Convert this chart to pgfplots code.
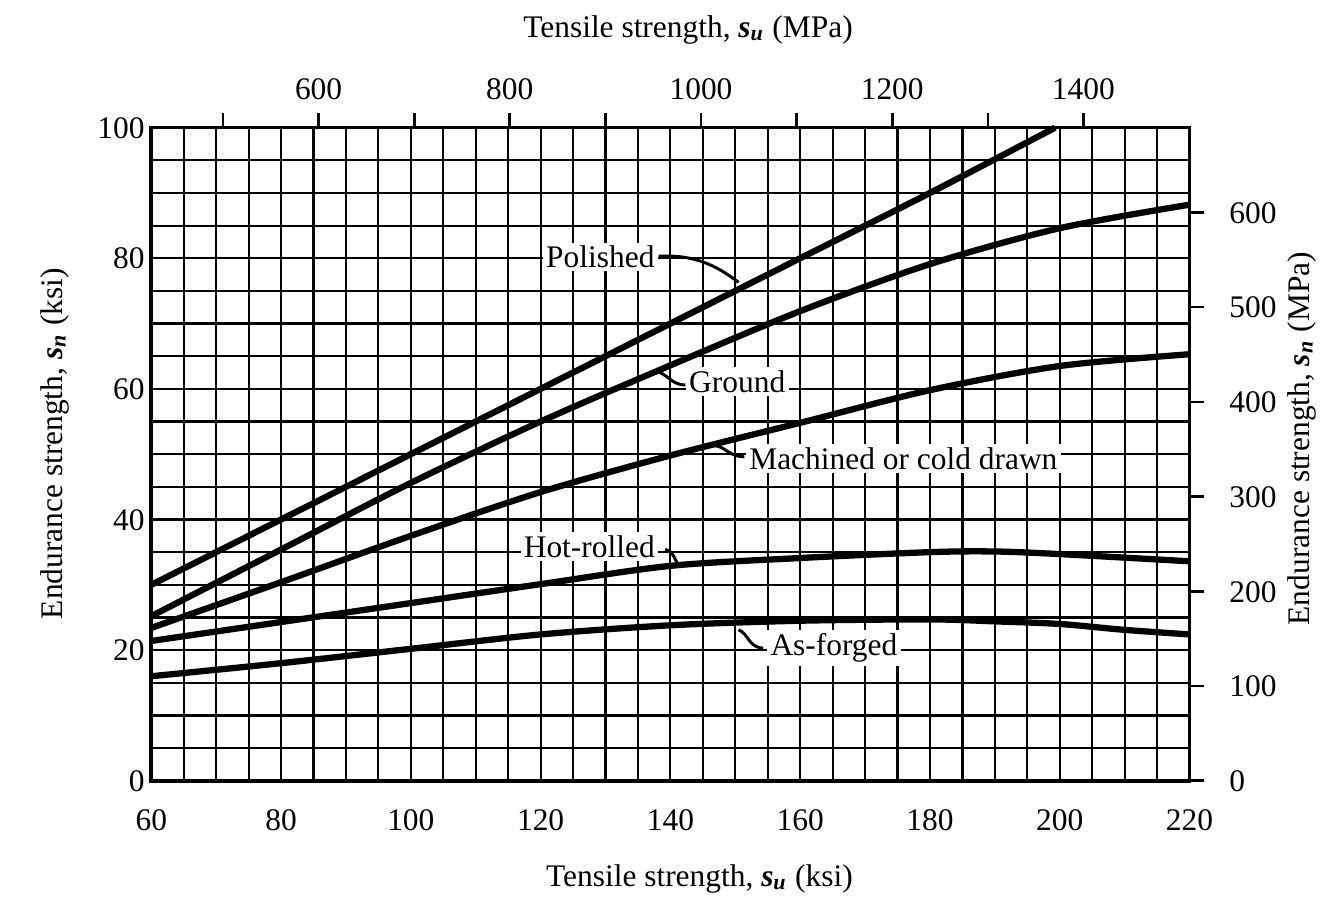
\documentclass[border=0pt]{standalone}
\usepackage{fontspec}
\setmainfont{Liberation Serif}
\usepackage{pgfplots}
\usepackage{pgfplotstable}
\pgfplotsset{compat=1.18}

% endurance strength (ksi) against tensile strength (ksi)
\pgfplotstableread{
x y
60 30
80 40
100 50
120 60
140 70
160 80
180 90
199.3 100
}\polished
\pgfplotstableread{
x y
60 25.2
80 35.4
100 45.6
120 55.0
140 63.6
160 71.9
180 79.1
200 84.6
220 88.2
}\ground
\pgfplotstableread{
x y
60 23.4
80 30.4
100 37.5
120 44.2
140 49.8
160 54.8
180 59.8
200 63.5
220 65.3
}\machined
\pgfplotstableread{
x y
60 21.4
80 24.3
100 27.2
120 30.1
140 32.9
160 34.1
180 35.0
190 35.1
200 34.7
220 33.6
}\hotrolled
\pgfplotstableread{
x y
60 16.0
80 18.0
100 20.2
120 22.4
140 23.8
160 24.5
180 24.7
190 24.4
200 24.0
210 23.1
220 22.4
}\asforged

\newcommand{\lbl}{\fontsize{9.5}{11}\selectfont}

\begin{document}
\begin{tikzpicture}[font=\lbl]
\pgfplotsset{
  common/.style={
    scale only axis, width=313.8pt, height=197.4pt,
    axis line style={line width=1.1pt},
    /pgf/number format/assume math mode=true,
    /pgf/number format/1000 sep={},
    tick label style={font=\lbl, text height=6.5pt, text depth=0pt},
  },
}
\begin{axis}[
  common,
  xmin=60, xmax=220, ymin=0, ymax=100,
  xtick={60,80,...,220}, ytick={0,20,...,100},
  minor tick num=3,
  grid=both,
  major grid style={black, line width=0.65pt},
  minor grid style={black, line width=0.65pt},
  major tick length=0pt, minor tick length=0pt,
  xtick pos=left, ytick pos=left,
  xticklabel style={yshift=-5pt},
  yticklabel style={xshift=1.5pt},
  clip=false,
]
\path (rel axis cs:-0.1457,-0.1786) rectangle (rel axis cs:1.1266,1.1954);

\addplot[black, line width=1.9pt, smooth] table {\polished};
\addplot[black, line width=1.9pt, smooth] table {\ground};
\addplot[black, line width=1.9pt, smooth] table {\machined};
\addplot[black, line width=1.9pt, smooth] table {\hotrolled};
\addplot[black, line width=1.9pt, smooth] table {\asforged};

% curve names with leaders
\node[fill=white, inner sep=1pt] at (axis cs:129.2,80.2) {Polished};
\draw[line width=0.9pt] (axis cs:138.2,80.3) .. controls (axis cs:143.5,80.6) and (axis cs:147,79) .. (axis cs:150.5,76.3);
\node[fill=white, inner sep=1pt] at (axis cs:150.3,61.1) {Ground};
\draw[line width=0.9pt] (axis cs:142.3,60.6) .. controls (axis cs:140,60.6) and (axis cs:139.5,62.5) .. (axis cs:137.6,62.7);
\node[fill=white, inner sep=1pt] at (axis cs:175.9,49.3) {Machined or cold drawn};
\draw[line width=0.9pt] (axis cs:151.4,49.6) .. controls (axis cs:149,49.6) and (axis cs:148.5,51.2) .. (axis cs:146.8,51.3);
\node[fill=white, inner sep=1pt] at (axis cs:127.5,35.9) {Hot-rolled};
\draw[line width=0.9pt] (axis cs:139.2,35.4) .. controls (axis cs:140.5,35.2) and (axis cs:140.5,34) .. (axis cs:141.4,32.8);
\node[fill=white, inner sep=1pt] at (axis cs:165.2,20.3) {As-forged};
\draw[line width=0.9pt] (axis cs:154.3,20.3) .. controls (axis cs:152,20.4) and (axis cs:152,22.6) .. (axis cs:150.5,23.1);

% axis titles
\node at (rel axis cs:0.528,-0.150) {Tensile strength, \textbf{\textit{s\textsubscript{u}}} (ksi)};
\node at (rel axis cs:0.517,1.150) {Tensile strength, \textbf{\textit{s\textsubscript{u}}} (MPa)};
\node[rotate=90] at (rel axis cs:-0.093,0.516) {Endurance strength, \textbf{\textit{s\textsubscript{n}}} (ksi)};
\node[rotate=90] at (rel axis cs:1.108,0.524) {Endurance strength, \textbf{\textit{s\textsubscript{n}}} (MPa)};
\end{axis}

% MPa scales on top and right
\begin{axis}[
  common,
  xmin=425, xmax=1511, ymin=0, ymax=689.5,
  xtick={600,800,...,1400}, minor xtick={500,700,...,1300},
  ytick={0,100,...,600},
  xtick pos=right, xticklabel pos=right,
  ytick pos=right, yticklabel pos=right,
  tick align=outside,
  major tick length=4.5pt, minor tick length=4.5pt,
  every tick/.style={black, line width=0.8pt},
  xticklabel style={yshift=0.5pt},
  yticklabel style={xshift=4pt},
]
\end{axis}
\end{tikzpicture}
\end{document}
